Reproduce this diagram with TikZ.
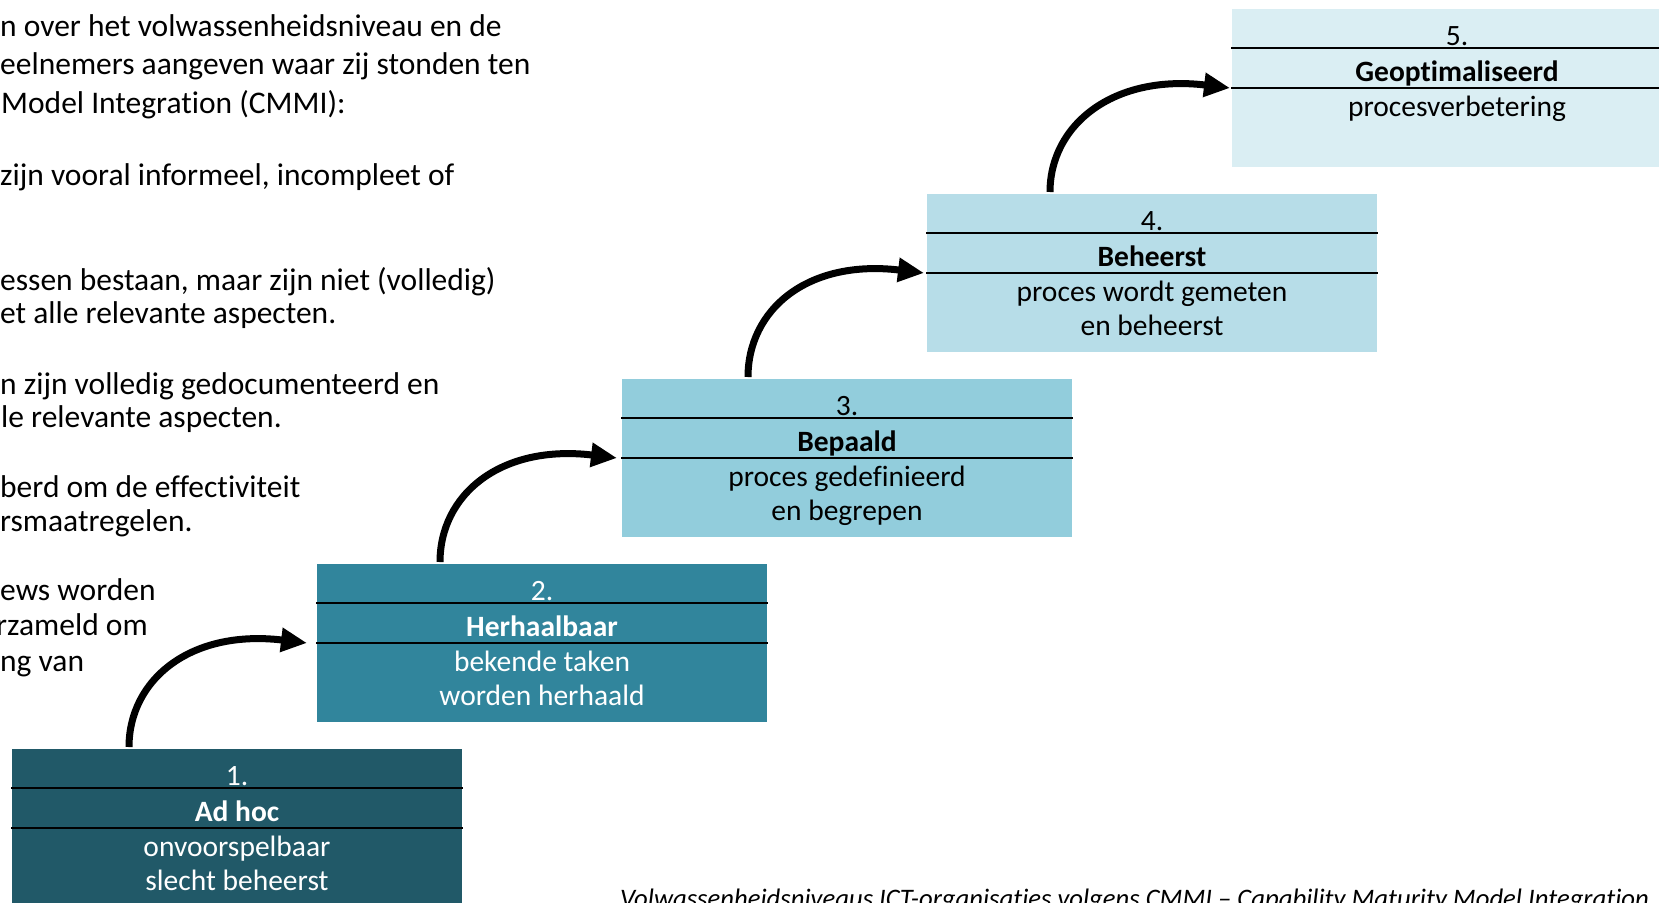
\documentclass[tikz,border=0pt]{standalone}
\usepackage{fontspec}
\setmainfont{Carlito}[Ligatures=NoCommon]
\usetikzlibrary{arrows.meta,calc}
\definecolor{c1}{HTML}{215968}
\definecolor{c2}{HTML}{31859C}
\definecolor{c3}{HTML}{92CDDC}
\definecolor{c4}{HTML}{B7DDE8}
\definecolor{c5}{HTML}{DAEEF3}
\begin{document}
\begin{tikzpicture}[x=1pt,y=-1pt,
  stepbox/.style={anchor=north west, minimum width=450pt, minimum height=158pt, inner sep=0pt, outer sep=0pt, draw=none},
  boxtxt/.style={anchor=base, font=\fontsize{29.5}{34}\selectfont, inner sep=0pt},
  sidetxt/.style={anchor=base west, font=\fontsize{31.5}{36}\selectfont, inner sep=0pt},
  captxt/.style={anchor=base west, font=\fontsize{26.7}{30}\selectfont\itshape, inner sep=0pt},
  sepline/.style={line width=2pt, black},
  curvearrow/.style={line width=7pt, -{Triangle[length=26pt,width=23pt]}}]
\useasboundingbox (0,0) rectangle (1659,902);
\clip (0,0) rectangle (1659,902);

% left text
\node[sidetxt] (l1) at (0,36) {n over het volwassenheidsniveau en de};
\node[sidetxt] (l2) at (0,74) {eelnemers aangeven waar zij stonden ten};
\node[sidetxt] (l3) at (1,113) {Model Integration (CMMI):};
\node[sidetxt] (l5) at (0,185) {zijn vooral informeel, incompleet of};
\node[sidetxt] (l8) at (0,290) {essen bestaan, maar zijn niet (volledig)};
\node[sidetxt] (l9) at (0,323) {et alle relevante aspecten.};
\node[sidetxt] (l11) at (0,394) {n zijn volledig gedocumenteerd en};
\node[sidetxt] (l12) at (1,427) {le relevante aspecten.};
\node[sidetxt] (l14) at (0,497) {berd om de effectiviteit};
\node[sidetxt] (l15) at (0,531) {rsmaatregelen.};
\node[sidetxt] (l17) at (0,600) {ews worden};
\node[sidetxt] (l18) at (-4,635) {rzameld om};
\node[sidetxt] (l19) at (0,671) {ng van};

% boxes
\node[stepbox, fill=c1] (b1) at (12,749) {};
\node[stepbox, fill=c2] (b2) at (317,564) {};
\node[stepbox, fill=c3] (b3) at (622,379) {};
\node[stepbox, fill=c4] (b4) at (927,194) {};
\node[stepbox, fill=c5] (b5) at (1232,9) {};

\foreach \b in {b1,b2,b3,b4,b5}{
  \draw[sepline] ($(\b.north west)+(-1,39)$) -- ($(\b.north east)+(1,39)$);
  \draw[sepline] ($(\b.north west)+(-1,79)$) -- ($(\b.north east)+(1,79)$);
}

% box texts
\node[boxtxt, text=white] (t1a) at ($(b1.north)+(0,36)$) {1.};
\node[boxtxt, text=white] (t1b) at ($(b1.north)+(0,72)$) {\bfseries Ad hoc};
\node[boxtxt, text=white] (t1c) at ($(b1.north)+(0,107)$) {onvoorspelbaar};
\node[boxtxt, text=white] (t1d) at ($(b1.north)+(0,141)$) {slecht beheerst};

\node[boxtxt, text=white] (t2a) at ($(b2.north)+(0,36)$) {2.};
\node[boxtxt, text=white] (t2b) at ($(b2.north)+(0,72)$) {\bfseries Herhaalbaar};
\node[boxtxt, text=white] (t2c) at ($(b2.north)+(0,107)$) {bekende taken};
\node[boxtxt, text=white] (t2d) at ($(b2.north)+(0,141)$) {worden herhaald};

\node[boxtxt] (t3a) at ($(b3.north)+(0,36)$) {3.};
\node[boxtxt] (t3b) at ($(b3.north)+(0,72)$) {\bfseries Bepaald};
\node[boxtxt] (t3c) at ($(b3.north)+(0,107)$) {proces gedefinieerd};
\node[boxtxt] (t3d) at ($(b3.north)+(0,141)$) {en begrepen};

\node[boxtxt] (t4a) at ($(b4.north)+(0,36)$) {4.};
\node[boxtxt] (t4b) at ($(b4.north)+(0,72)$) {\bfseries Beheerst};
\node[boxtxt] (t4c) at ($(b4.north)+(0,107)$) {proces wordt gemeten};
\node[boxtxt] (t4d) at ($(b4.north)+(0,141)$) {en beheerst};

\node[boxtxt] (t5a) at ($(b5.north)+(0,36)$) {5.};
\node[boxtxt] (t5b) at ($(b5.north)+(0,72)$) {\bfseries Geoptimaliseerd};
\node[boxtxt] (t5c) at ($(b5.north)+(0,107)$) {procesverbetering};

% arrows
\coordinate (a1s) at ($(b1.north west)+(117,-2)$);
\coordinate (a1e) at ($(b2.north west)+(-10,79)$);
\coordinate (a2s) at ($(b2.north west)+(123,-2)$);
\coordinate (a2e) at ($(b3.north west)+(-5,79)$);
\coordinate (a3s) at ($(b3.north west)+(126,-2)$);
\coordinate (a3e) at ($(b4.north west)+(-3,79)$);
\coordinate (a4s) at ($(b4.north west)+(123,-2)$);
\coordinate (a4e) at ($(b5.north west)+(-2,79)$);
\foreach \i in {1,2,3,4}{
  \draw[curvearrow] (a\i s) .. controls +(0,-67) and +(-117,-14) .. (a\i e);
}

% caption
\node[captxt] (cap) at (620,907) {Volwassenheidsniveaus ICT-organisaties volgens CMMI – Capability Maturity Model Integration};
\end{tikzpicture}
\end{document}
